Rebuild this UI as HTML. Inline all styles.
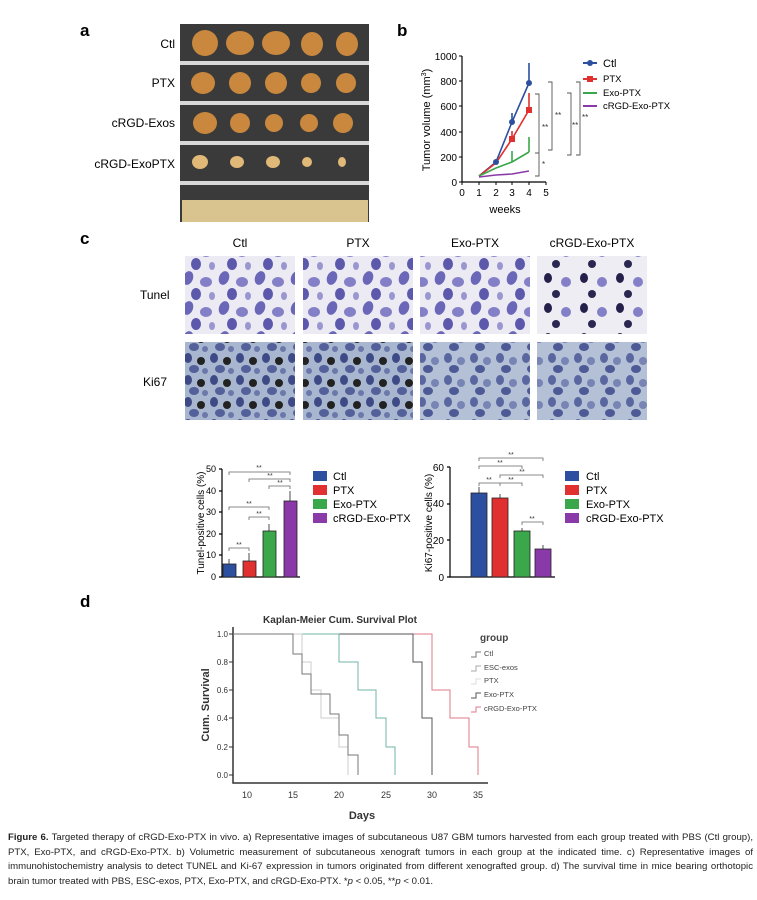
<!DOCTYPE html><html><head><meta charset="utf-8"><style>
html,body{margin:0;padding:0;background:#fff;}
svg{display:block;font-family:"Liberation Sans",Arial,sans-serif;}
.cap{position:absolute;left:8px;top:831px;width:745px;font-family:"Liberation Sans",sans-serif;font-size:9.6px;line-height:14.6px;color:#222;text-align:justify;}
</style></head><body>
<div style="position:relative;width:757px;height:900px;overflow:hidden">
<svg width="757" height="900" viewBox="0 0 757 900">
<defs>
<pattern id="tun" width="36" height="30" patternUnits="userSpaceOnUse">
<rect width="36" height="30" fill="#eceaf2"/>
<ellipse cx="8" cy="8" rx="5" ry="7" fill="#6a66b8" transform="rotate(20 8 8)"/>
<ellipse cx="26" cy="12" rx="6" ry="5" fill="#8480c8"/>
<ellipse cx="16" cy="24" rx="5" ry="6" fill="#5c58ac"/>
<ellipse cx="32" cy="26" rx="3" ry="4" fill="#9a96d0"/>
</pattern>
<pattern id="tun2" width="36" height="30" patternUnits="userSpaceOnUse">
<rect width="36" height="30" fill="#eeedf3"/>
<ellipse cx="8" cy="8" rx="4" ry="5" fill="#24204a"/>
<ellipse cx="26" cy="12" rx="5" ry="5" fill="#8480c8"/>
<ellipse cx="16" cy="24" rx="4" ry="4" fill="#2a2750"/>
</pattern>
<pattern id="ki" width="26" height="22" patternUnits="userSpaceOnUse">
<rect width="26" height="22" fill="#a8b6d0"/>
<ellipse cx="6" cy="6" rx="4" ry="5" fill="#3e4a86"/>
<ellipse cx="19" cy="9" rx="4" ry="4" fill="#222"/>
<ellipse cx="12" cy="17" rx="5" ry="4" fill="#53609a"/>
<ellipse cx="23" cy="19" rx="3" ry="3" fill="#6b78aa"/>
</pattern>
<pattern id="ki2" width="26" height="22" patternUnits="userSpaceOnUse">
<rect width="26" height="22" fill="#b4c0d6"/>
<ellipse cx="6" cy="6" rx="4" ry="5" fill="#5a66a0"/>
<ellipse cx="19" cy="9" rx="4" ry="4" fill="#7884b4"/>
<ellipse cx="12" cy="17" rx="5" ry="4" fill="#4e5a96"/>
</pattern>
</defs>

<!-- Panel a -->
<text x="80" y="36" font-size="17" font-weight="bold">a</text>
<rect x="180" y="24" width="189" height="198" fill="#3a3a3a"/>
<g fill="#d8d8d8"><rect x="180" y="61" width="189" height="4"/><rect x="180" y="101" width="189" height="4"/><rect x="180" y="141" width="189" height="4"/><rect x="180" y="181" width="189" height="4"/></g>
<rect x="182" y="200" width="186" height="22" fill="#d9c490"/>
<g font-size="12" text-anchor="end"><text x="175" y="48">Ctl</text><text x="175" y="87">PTX</text><text x="175" y="127">cRGD-Exos</text><text x="175" y="168">cRGD-ExoPTX</text></g>
<g fill="#c9883e">
<ellipse cx="205" cy="43" rx="13" ry="13"/><ellipse cx="240" cy="43" rx="14" ry="12"/><ellipse cx="276" cy="43" rx="14" ry="12"/><ellipse cx="312" cy="44" rx="11" ry="12"/><ellipse cx="347" cy="44" rx="11" ry="12"/>
<ellipse cx="203" cy="83" rx="12" ry="11"/><ellipse cx="240" cy="83" rx="11" ry="11"/><ellipse cx="276" cy="83" rx="11" ry="11"/><ellipse cx="311" cy="83" rx="10" ry="10"/><ellipse cx="346" cy="83" rx="10" ry="10"/>
<ellipse cx="205" cy="123" rx="12" ry="11"/><ellipse cx="240" cy="123" rx="10" ry="10"/><ellipse cx="274" cy="123" rx="9" ry="9"/><ellipse cx="309" cy="123" rx="9" ry="9"/><ellipse cx="343" cy="123" rx="10" ry="10"/>
</g>
<g fill="#e0b877"><ellipse cx="200" cy="162" rx="8" ry="7"/><ellipse cx="237" cy="162" rx="7" ry="6"/><ellipse cx="273" cy="162" rx="7" ry="6"/><ellipse cx="307" cy="162" rx="5" ry="5"/><ellipse cx="342" cy="162" rx="4" ry="5"/></g>

<!-- Panel b -->
<text x="397" y="36" font-size="17" font-weight="bold">b</text>
<g stroke="#000" stroke-width="1.2" fill="none">
<path d="M462,56 V182 H546"/>
</g>
<g font-size="10" text-anchor="end">
<text x="457" y="60">1000</text><text x="457" y="85">800</text><text x="457" y="110">600</text><text x="457" y="136">400</text><text x="457" y="161">200</text><text x="457" y="186">0</text></g>
<g stroke="#000"><path d="M459,56h3M459,81h3M459,106h3M459,132h3M459,157h3M459,182h3M462,182v3M479,182v3M496,182v3M512,182v3M529,182v3M546,182v3"/></g>
<g font-size="10" text-anchor="middle"><text x="462" y="196">0</text><text x="479" y="196">1</text><text x="496" y="196">2</text><text x="512" y="196">3</text><text x="529" y="196">4</text><text x="546" y="196">5</text>
<text x="505" y="213" font-size="11">weeks</text></g>
<text transform="translate(430,120) rotate(-90)" font-size="11" text-anchor="middle">Tumor volume (mm<tspan font-size="7" dy="-4">3</tspan><tspan dy="4">)</tspan></text>
<g fill="none" stroke-width="1.6">
<path d="M479,176 L496,162 L512,122 L529,83" stroke="#2d4fa0"/>
<path d="M529,83 V63 M512,122 V113" stroke="#2d4fa0"/>
<path d="M479,176 L496,163 L512,139 L529,110" stroke="#e03030"/>
<path d="M529,110 V93 M512,139 V131" stroke="#e03030"/>
<path d="M479,176 L496,168 L512,162 L529,152" stroke="#3aa84a"/>
<path d="M529,152 V137 M512,162 V151" stroke="#3aa84a"/>
<path d="M479,177 L496,175 L512,174 L529,171" stroke="#8a3aa8"/>
</g>
<g><circle cx="529" cy="83" r="3" fill="#2d4fa0"/><circle cx="512" cy="122" r="3" fill="#2d4fa0"/><circle cx="496" cy="162" r="3" fill="#2d4fa0"/><rect x="526" y="107" width="6" height="6" fill="#e03030"/><rect x="509" y="136" width="6" height="6" fill="#e03030"/></g>
<g stroke="#555" fill="none" stroke-width="0.9">
<path d="M535,94h4v59h-4M535,153h4v23h-4M548,82h4v68h-4M567,93h4v62h-4M576,82h4v73h-4"/></g>
<g font-size="8" fill="#333"><text x="542" y="130">**</text><text x="542" y="167">*</text><text x="555" y="118">**</text><text x="572" y="128">**</text><text x="582" y="120">**</text></g>
<g font-size="11"><line x1="583" y1="63" x2="597" y2="63" stroke="#2d4fa0" stroke-width="2"/><circle cx="590" cy="63" r="3" fill="#2d4fa0"/><text x="603" y="67">Ctl</text></g>
<g font-size="9.5">
<line x1="583" y1="79" x2="597" y2="79" stroke="#e03030" stroke-width="2"/><rect x="587" y="76" width="6" height="6" fill="#e03030"/><text x="603" y="82">PTX</text>
<line x1="583" y1="93" x2="597" y2="93" stroke="#3aa84a" stroke-width="2"/><text x="603" y="96">Exo-PTX</text>
<line x1="583" y1="106" x2="597" y2="106" stroke="#8a3aa8" stroke-width="2"/><text x="603" y="109">cRGD-Exo-PTX</text></g>

<!-- Panel c -->
<text x="80" y="244" font-size="17" font-weight="bold">c</text>
<g font-size="12" text-anchor="middle"><text x="240" y="247">Ctl</text><text x="358" y="247">PTX</text><text x="475" y="247">Exo-PTX</text><text x="592" y="247">cRGD-Exo-PTX</text></g>
<text x="140" y="299" font-size="12">Tunel</text><text x="143" y="386" font-size="12">Ki67</text>
<rect x="185" y="256" width="110" height="78" fill="url(#tun)"/>
<rect x="303" y="256" width="110" height="78" fill="url(#tun)"/>
<rect x="420" y="256" width="110" height="78" fill="url(#tun)"/>
<rect x="537" y="256" width="110" height="78" fill="url(#tun2)"/>
<rect x="185" y="342" width="110" height="78" fill="url(#ki)"/>
<rect x="303" y="342" width="110" height="78" fill="url(#ki)"/>
<rect x="420" y="342" width="110" height="78" fill="url(#ki2)"/>
<rect x="537" y="342" width="110" height="78" fill="url(#ki2)"/>

<!-- bar chart 1 -->
<g stroke="#000" fill="none" stroke-width="1.2"><path d="M222,469 V577 H300"/>
<path d="M219,469h3M219,491h3M219,512h3M219,534h3M219,555h3M219,577h3"/></g>
<g font-size="9" text-anchor="end"><text x="216" y="472">50</text><text x="216" y="494">40</text><text x="216" y="515">30</text><text x="216" y="537">20</text><text x="216" y="558">10</text><text x="216" y="580">0</text></g>
<text transform="translate(204,523) rotate(-90)" font-size="10" text-anchor="middle">Tunel-positive cells (%)</text>
<g stroke="#222" stroke-width="0.8">
<rect x="223" y="564" width="13" height="13" fill="#2d4fa0"/>
<rect x="243" y="561" width="13" height="16" fill="#e03030"/>
<rect x="263" y="531" width="13" height="46" fill="#3aa84a"/>
<rect x="284" y="501" width="13" height="76" fill="#8a3aa8"/>
<path d="M229,564v-5M249,561v-8M269,531v-7M290,501v-10" fill="none"/></g>
<g stroke="#666" fill="none" stroke-width="0.8"><path d="M229,475v-3h61v3M249,482v-3h41v3M269,489v-3h21v3M229,510v-3h40v3M249,520v-3h20v3M229,551v-3h20v3"/></g>
<g font-size="7" text-anchor="middle" fill="#333"><text x="259" y="470">**</text><text x="270" y="478">**</text><text x="280" y="485">**</text><text x="249" y="506">**</text><text x="259" y="516">**</text><text x="239" y="547">**</text></g>
<g font-size="11"><rect x="313" y="471" width="14" height="10" fill="#2d4fa0"/><text x="333" y="480">Ctl</text>
<rect x="313" y="485" width="14" height="10" fill="#e03030"/><text x="333" y="494">PTX</text>
<rect x="313" y="499" width="14" height="10" fill="#3aa84a"/><text x="333" y="508">Exo-PTX</text>
<rect x="313" y="513" width="14" height="10" fill="#8a3aa8"/><text x="333" y="522">cRGD-Exo-PTX</text></g>

<!-- bar chart 2 -->
<g stroke="#000" fill="none" stroke-width="1.2"><path d="M450,467 V577 H555"/>
<path d="M447,467h3M447,504h3M447,540h3M447,577h3"/></g>
<g font-size="10" text-anchor="end"><text x="444" y="471">60</text><text x="444" y="507">40</text><text x="444" y="544">20</text><text x="444" y="581">0</text></g>
<text transform="translate(432,523) rotate(-90)" font-size="10" text-anchor="middle">Ki67-positive cells (%)</text>
<g stroke="#222" stroke-width="0.8">
<rect x="471" y="493" width="16" height="84" fill="#2d4fa0"/>
<rect x="492" y="498" width="16" height="79" fill="#e03030"/>
<rect x="514" y="531" width="16" height="46" fill="#3aa84a"/>
<rect x="535" y="549" width="16" height="28" fill="#8a3aa8"/>
<path d="M479,493v-6M500,498v-4M522,531v-3M543,549v-4" fill="none"/></g>
<g stroke="#666" fill="none" stroke-width="0.8"><path d="M479,461v-3h64v3M479,469v-3h43v3M500,478v-3h43v3M479,486v-3h21v3M500,486v-3h22v3M522,525v-3h21v3"/></g>
<g font-size="7" text-anchor="middle" fill="#333"><text x="511" y="457">**</text><text x="500" y="465">**</text><text x="522" y="474">**</text><text x="489" y="482">**</text><text x="511" y="482">**</text><text x="532" y="521">**</text></g>
<g font-size="11"><rect x="565" y="471" width="14" height="10" fill="#2d4fa0"/><text x="586" y="480">Ctl</text>
<rect x="565" y="485" width="14" height="10" fill="#e03030"/><text x="586" y="494">PTX</text>
<rect x="565" y="499" width="14" height="10" fill="#3aa84a"/><text x="586" y="508">Exo-PTX</text>
<rect x="565" y="513" width="14" height="10" fill="#8a3aa8"/><text x="586" y="522">cRGD-Exo-PTX</text></g>

<!-- Panel d -->
<text x="80" y="607" font-size="17" font-weight="bold">d</text>
<text x="340" y="623" font-size="10" text-anchor="middle" font-weight="bold" fill="#333">Kaplan-Meier Cum. Survival Plot</text>
<g stroke="#333" fill="none" stroke-width="1.5"><path d="M233,627 V783 H488"/></g>
<g stroke="#333"><path d="M229,634h4M229,662h4M229,690h4M229,718h4M229,747h4M229,775h4"/></g>
<g font-size="8" text-anchor="end" fill="#333"><text x="228" y="637">1.0</text><text x="228" y="665">0.8</text><text x="228" y="693">0.6</text><text x="228" y="721">0.4</text><text x="228" y="750">0.2</text><text x="228" y="778">0.0</text></g>
<g font-size="9" text-anchor="middle" fill="#333"><text x="247" y="798">10</text><text x="293" y="798">15</text><text x="339" y="798">20</text><text x="386" y="798">25</text><text x="432" y="798">30</text><text x="478" y="798">35</text>
<text x="362" y="819" font-size="11" font-weight="bold">Days</text></g>
<text transform="translate(209,705) rotate(-90)" font-size="11" text-anchor="middle" font-weight="bold" fill="#333">Cum. Survival</text>
<g fill="none" stroke-width="1">
<path d="M233,634 H432 V690 H450 V718 H469 V747 H478 V775" stroke="#e07a8a"/>
<path d="M233,634 H413 V662 H422 V718 H432 V775" stroke="#555"/>
<path d="M233,634 H339 V662 H358 V690 H376 V718 H386 V747 H395 V775" stroke="#6fb5a8"/>
<path d="M233,634 H302 V662 H311 V690 H321 V718 H339 V747 H348 V775" stroke="#ccc"/>
<path d="M233,634 H293 V654 H302 V674 H311 V694 H330 V714 H339 V735 H348 V755 H358 V775" stroke="#777"/>
</g>
<text x="480" y="641" font-size="10" font-weight="bold" fill="#444">group</text>
<g font-size="7.5" fill="#444">
<path d="M471,657h5v-5h5" stroke="#777" fill="none"/><text x="484" y="656">Ctl</text>
<path d="M471,671h5v-5h5" stroke="#aaa" fill="none"/><text x="484" y="670">ESC-exos</text>
<path d="M471,684h5v-5h5" stroke="#ddd" fill="none"/><text x="484" y="683">PTX</text>
<path d="M471,698h5v-5h5" stroke="#555" fill="none"/><text x="484" y="697">Exo-PTX</text>
<path d="M471,712h5v-5h5" stroke="#e07a8a" fill="none"/><text x="484" y="711">cRGD-Exo-PTX</text></g>
</svg>
<div class="cap"><b>Figure 6.</b> Targeted therapy of cRGD-Exo-PTX in vivo. a) Representative images of subcutaneous U87 GBM tumors harvested from each group treated with PBS (Ctl group), PTX, Exo-PTX, and cRGD-Exo-PTX. b) Volumetric measurement of subcutaneous xenograft tumors in each group at the indicated time. c) Representative images of immunohistochemistry analysis to detect TUNEL and Ki-67 expression in tumors originated from different xenografted group. d) The survival time in mice bearing orthotopic brain tumor treated with PBS, ESC-exos, PTX, Exo-PTX, and cRGD-Exo-PTX. *<i>p</i> &lt; 0.05, **<i>p</i> &lt; 0.01.</div>
</div>
</body></html>
